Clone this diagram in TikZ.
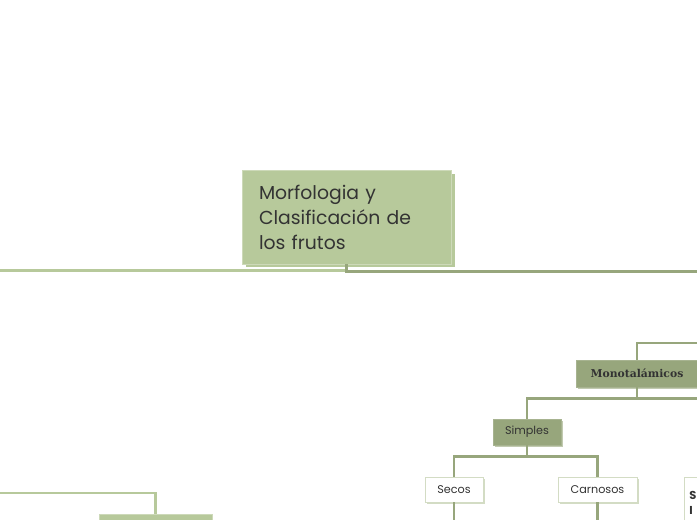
\documentclass[tikz,border=0pt]{standalone}
\usepackage{fontspec}
\setmainfont{Poppins}
\newfontfamily\serifb{DejaVu Serif}
\usetikzlibrary{positioning}
\definecolor{lightg}{HTML}{B7C99B}
\definecolor{darkg}{HTML}{97A67C}
\definecolor{txt}{HTML}{333333}
\definecolor{edgeg}{HTML}{D3DCC4}
\tikzset{
  ltline/.style={draw=lightg, line width=2.8pt},
  dkline/.style={draw=darkg, line width=2.8pt},
  mainbox/.style={fill=lightg, draw=lightg!70!white, line width=0.6pt, text=txt, inner sep=0pt, minimum width=209pt, minimum height=94pt, font=\fontsize{18.8}{25}\selectfont, align=left, text width=175pt},
  darkbox/.style={fill=darkg, draw=darkg!85!white, line width=0.5pt, text=txt, inner sep=0pt},
  whitebox/.style={fill=white, draw=edgeg, line width=0.8pt, text=txt, inner sep=0pt, font=\fontsize{11.2}{13}\selectfont},
  lightbox/.style={fill=lightg, draw=lightg!70!white, line width=0.5pt, inner sep=0pt},
}
\begin{document}
\begin{tikzpicture}[x=1pt, y=-1pt]
\useasboundingbox (0,0) rectangle (697,520);
\clip (0,0) rectangle (697,520);
% main node shadow + node
\fill[lightg] (246,174) rectangle (455,267);
\node[mainbox] (m) at (346.5,217) {Morfologia y\\Clasificación de\\los frutos};
\coordinate (leftend) at (0,270.8);
\coordinate (rightend) at (697,271.3);
\draw[ltline] (leftend) -- (leftend -| m.south);
\draw[dkline] (m.south) |- (rightend);
% Monotalamicos
\fill[darkg!60!white] (578,362) rectangle (700,389);
\node[darkbox, minimum width=122pt, minimum height=27pt, font=\serifb\bfseries\fontsize{10.8}{12}\selectfont] (mono) at (637,373.5) {Monotalámicos};
\coordinate (monotop) at (697,343);
\coordinate (bus) at (697,398.5);
\draw[dkline] (mono.north) |- (monotop);
\draw[dkline] (mono.south) -- (mono.south |- bus);
% Simples
\fill[darkg!60!white] (495,421) rectangle (563,447);
\node[darkbox, minimum width=68pt, minimum height=26pt, font=\fontsize{11.2}{13}\selectfont] (simp) at (527,432) {Simples};
\draw[dkline] (simp.north) |- (bus);
\coordinate (sbus) at (527,456.5);
% Secos, Carnosos
\fill[edgeg] (427,479) rectangle (485,504);
\node[whitebox, minimum width=58pt, minimum height=25pt] (sec) at (454,489.5) {Secos};
\fill[edgeg] (560,479) rectangle (639,504);
\node[whitebox, minimum width=79pt, minimum height=25pt] (car) at (597.5,489.5) {Carnosos};
\draw[dkline] (simp.south) -- (sbus) -| (sec.north);
\draw[dkline] (sbus) -| (car.north);
\draw[dkline] (sec.south) -- ++(0,25);
\draw[dkline] (car.south) -- ++(0,25);
% partially visible third box
\node[whitebox, minimum width=80pt, minimum height=50pt, anchor=north west, align=left, text width=70pt, font=\bfseries\fontsize{11.5}{15}\selectfont] (s3) at (684,477) {S\\I};
% bottom-left light box
\coordinate (blleft) at (0,493);
\node[lightbox, minimum width=113pt, minimum height=26pt] (bl) at (155.5,527) {};
\draw[ltline] (bl.north) |- (blleft);
\end{tikzpicture}
\end{document}
